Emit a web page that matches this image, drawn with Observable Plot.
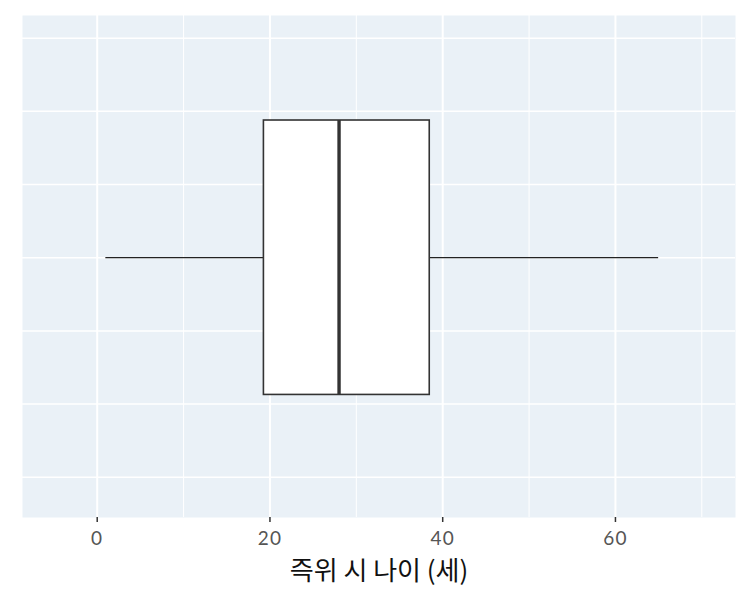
<!DOCTYPE html>
<html>
<head>
<meta charset="utf-8">
<script src="https://cdn.jsdelivr.net/npm/d3@7"></script>
<script src="https://cdn.jsdelivr.net/npm/@observablehq/plot@0.6"></script>
<style>
  html, body { margin: 0; padding: 0; background: #ffffff; }
  #chart svg { display: block; }
  #chart svg g[aria-label="x-axis tick label"] text { letter-spacing: 1.2px; }
</style>
</head>
<body>
<div id="chart"></div>
<script>
// Data (age at accession, years)
const categories = ["즉위 시 나이"];
const whiskerLow = [1];
const q1 = [19.3];
const median = [28];
const q3 = [38.5];
const whiskerHigh = [65];

const xMajorTicks = [0, 20, 40, 60];
const xMinorTicks = [10, 30, 50, 70];
const yGridTicks = [-0.3, -0.2, -0.1, 0, 0.1, 0.2, 0.3];
const xLabel = "즉위 시 나이 (세)";

const stats = categories.map((c, i) => ({
  cat: c, lo: whiskerLow[i], q1: q1[i], med: median[i], q3: q3[i], hi: whiskerHigh[i]
}));

const boxHalf = 0.1875;

const chart = Plot.plot({
  width: 750,
  height: 600,
  marginLeft: 22,
  marginRight: 15,
  marginTop: 15,
  marginBottom: 83,
  style: { background: "#ffffff", overflow: "visible" },
  x: { domain: [-8.65, 73.9] },
  y: { domain: [-0.355, 0.331], axis: null },
  marks: [
    Plot.frame({ fill: "#eaf1f7", stroke: null }),
    Plot.gridY({ ticks: yGridTicks, stroke: "#ffffff", strokeOpacity: 1, strokeWidth: 1.5 }),
    Plot.gridX({ ticks: xMinorTicks, stroke: "#ffffff", strokeOpacity: 1, strokeWidth: 1 }),
    Plot.gridX({ ticks: xMajorTicks, stroke: "#ffffff", strokeOpacity: 1, strokeWidth: 2 }),
    Plot.ruleY(stats, { y: () => 0, x1: "lo", x2: "q1", stroke: "#222222", strokeWidth: 1.3 }),
    Plot.ruleY(stats, { y: () => 0, x1: "q3", x2: "hi", stroke: "#222222", strokeWidth: 1.3 }),
    Plot.rect(stats, { x1: "q1", x2: "q3", y1: () => -boxHalf, y2: () => boxHalf, fill: "#ffffff", stroke: "#333333", strokeWidth: 1.6 }),
    Plot.ruleX(stats, { x: "med", y1: () => -boxHalf, y2: () => boxHalf, stroke: "#333333", strokeWidth: 3.4 }),
    Plot.axisX({
      ticks: xMajorTicks,
      tickSize: 5,
      tickPadding: 9,
      stroke: "#333333",
      strokeWidth: 1.5,
      fill: "#555555",
      fontSize: 19,
      fontFamily: "Lato, 'Noto Sans', sans-serif",
      label: null
    }),
    Plot.text([xLabel], {
      text: d => d,
      frameAnchor: "bottom",
      dy: 62,
      fontSize: 26,
      fill: "#111111",
      fontFamily: "'Noto Sans CJK KR', 'Noto Sans', sans-serif"
    })
  ]
});

document.getElementById("chart").appendChild(chart);
</script>
</body>
</html>
